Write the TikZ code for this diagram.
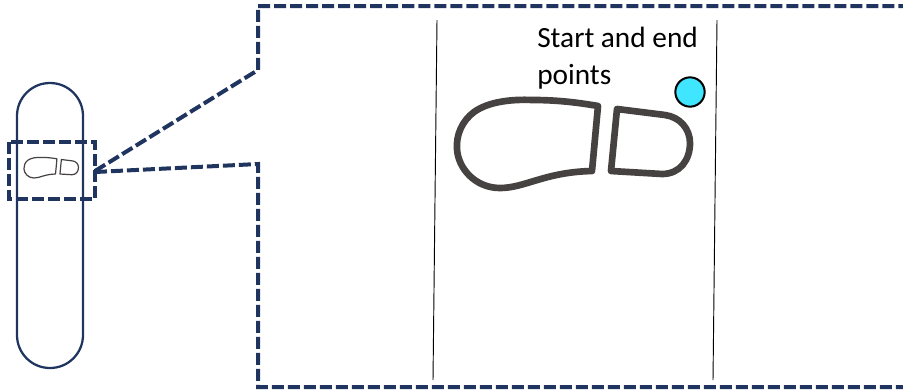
\documentclass[tikz,border=0pt]{standalone}
\usepackage{fontspec}
\setmainfont{Carlito}
\definecolor{navy}{HTML}{1F3560}
\definecolor{shoe}{HTML}{464242}
\definecolor{dotfill}{HTML}{40E6FF}
\tikzset{
  dashline/.style={draw=navy,line width=3pt,dash pattern=on 9pt off 3pt},
  outlineline/.style={draw=navy,line width=1.7pt},
  laneline/.style={draw=black,line width=0.7pt},
  shoeline/.style={draw=shoe,line join=round,line cap=round},
}
\newcommand{\shoeprint}[1]{%
  \draw[shoeline,line width=#1]
    (598,106) .. controls (575,102) and (555,100) .. (533,100)
    .. controls (510,99) and (488,102) .. (474,112)
    .. controls (462,121) and (456,135) .. (457,149)
    .. controls (458,168) and (475,188) .. (500,188)
    .. controls (525,188) and (545,172) .. (592,171) -- cycle;
  \draw[shoeline,line width=#1]
    (617,109) -- (665,115)
    .. controls (680,117) and (690,129) .. (690,143)
    .. controls (690,160) and (680,174) .. (662,174)
    -- (611,171) -- cycle;
}
\begin{document}
\begin{tikzpicture}[x=0.75pt,y=-0.75pt]
\useasboundingbox (0,0) rectangle (903,390);
% track
\draw[outlineline,rounded corners=24.7pt] (17,83) rectangle (83,368);
% inset frame
\draw[dashline] (9,142) rectangle (95,199);
% small shoe
\begin{scope}[shift={(-83,134)},scale=0.234]
\shoeprint{0.9pt}
\end{scope}
% callout frame, open on the right where it leaves the picture
\draw[dashline] (95,171) -- (258,70) -- (258,6) -- (905,6);
\draw[dashline] (95,172) -- (258,164) -- (258,387) -- (905,387);
% lanes
\draw[laneline] (437,20) -- (433,380);
\draw[laneline] (717,20) -- (713,380);
% big shoe
\shoeprint{5pt}
% marker
\node[circle,draw=black,line width=1.5pt,fill=dotfill,minimum size=22pt,inner sep=0pt] (dot) at (690,92) {};
\node[anchor=base west,font=\fontsize{22}{26}\selectfont,inner sep=0pt] (label) at (537,47) {Start and end};
\node[anchor=base west,font=\fontsize{22}{26}\selectfont,inner sep=0pt] (label2) at (537,84) {points};
\end{tikzpicture}
\end{document}
